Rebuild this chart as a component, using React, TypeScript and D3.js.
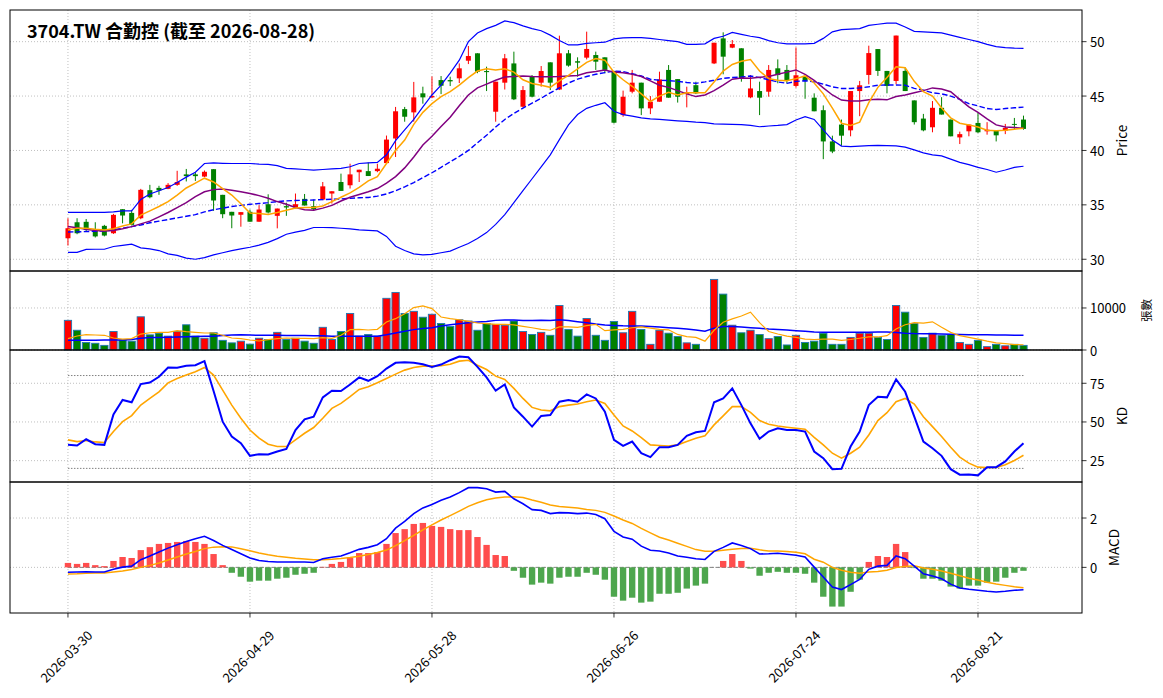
import * as d3 from "d3";

// ---- data ----
const tickIdx = [0, 20, 40, 60, 80, 100];
const tickLabels = ["2026-03-30", "2026-04-29", "2026-05-28", "2026-06-26", "2026-07-24", "2026-08-21"];

// index 70 has no trade (volume 0, no candle)
const opens = [
  31.93, 33.4, 33.44, 32.76, 33.07, 32.39, 34.6, 34.26, 33.77, 36.35,
  36.56, 36.47, 36.84, 37.8, 37.8, 37.6, 38.28, 35.92, 34.36, 34.09,
  34.36, 33.45, 35.06, 33.99, 34.88, 34.76, 35.55, 34.88, 35.49, 36.04,
  37.1, 36.8, 38.0, 38.1, 38.1, 38.84, 41.1, 43.8, 43.5, 45.25,
  44.88, 46.47, 46.47, 46.63, 48.25, 48.93, 47.3, 43.56, 46.23, 48.0,
  44.02, 46.78, 46.23, 48.1, 45.6, 48.93, 48.2, 48.53, 48.77, 48.56,
  47.3, 43.25, 45.4, 46.23, 43.87, 44.48, 47.4, 46.56, 45.18, 46.0,
  null, 48.0, 50.3, 49.45, 49.39, 44.88, 45.46, 45.4, 47.55, 47.4,
  45.93, 46.85, 44.85, 43.7, 40.83, 42.38, 41.85, 45.46, 46.94, 49.32,
  47.31, 46.39, 47.31, 44.6, 42.93, 42.13, 43.92, 42.84, 41.2, 41.76,
  42.53, 41.76, 41.85, 41.82, 42.44, 42.84,
];
const highs = [
  33.77, 33.77, 33.7, 33.4, 33.16, 34.17, 34.6, 34.54, 36.47, 36.84,
  36.75, 37.0, 38.13, 38.3, 38.0, 38.16, 38.28, 35.92, 34.36, 34.33,
  34.57, 34.97, 35.97, 34.66, 35.2, 36.04, 36.0, 35.49, 37.1, 36.25,
  37.87, 38.78, 38.23, 38.9, 38.78, 41.37, 44.0, 44.0, 46.3, 45.86,
  46.8, 46.84, 46.78, 48.0, 49.6, 48.93, 47.7, 46.32, 48.87, 49.08,
  45.92, 46.93, 47.76, 48.1, 50.55, 49.23, 48.56, 50.92, 49.08, 48.56,
  47.3, 45.5, 47.4, 46.23, 45.0, 47.24, 47.85, 46.56, 45.86, 46.32,
  null, 49.9, 50.86, 50.15, 49.39, 46.93, 46.32, 47.85, 48.37, 47.85,
  49.47, 46.85, 45.25, 44.14, 41.36, 42.84, 45.46, 46.39, 49.63, 49.32,
  47.31, 50.56, 47.62, 44.6, 43.36, 44.54, 44.9, 42.84, 41.73, 42.38,
  43.46, 42.6, 41.85, 42.44, 42.99, 43.2,
];
const lows = [
  31.26, 32.3, 32.55, 32.0, 32.1, 32.33, 33.3, 33.1, 33.68, 35.6,
  35.92, 36.44, 36.75, 37.15, 37.2, 37.55, 34.45, 33.77, 32.85, 32.99,
  33.45, 33.45, 34.2, 32.84, 33.99, 34.66, 34.94, 34.45, 35.43, 35.12,
  36.28, 36.5, 37.1, 37.65, 38.0, 38.84, 39.4, 42.64, 42.64, 44.3,
  44.8, 45.18, 45.92, 46.2, 47.94, 47.1, 45.46, 42.64, 45.6, 44.63,
  43.96, 44.88, 45.86, 45.55, 45.55, 47.7, 46.78, 48.37, 47.4, 47.1,
  42.48, 43.1, 45.25, 43.25, 43.34, 44.48, 44.85, 44.4, 43.96, 45.18,
  null, 47.94, 47.0, 49.4, 46.32, 44.8, 43.25, 44.94, 46.17, 46.17,
  45.77, 44.75, 43.6, 39.2, 39.75, 40.43, 41.3, 43.15, 46.08, 46.85,
  45.25, 46.08, 45.46, 42.38, 41.76, 41.67, 43.3, 41.3, 40.59, 41.3,
  41.6, 41.45, 40.83, 41.5, 41.91, 41.91,
];
const closes = [
  32.85, 32.39, 32.7, 32.1, 32.18, 34.08, 34.02, 33.16, 36.38, 35.7,
  36.32, 36.84, 37.1, 37.64, 37.64, 38.04, 35.4, 34.14, 34.02, 34.33,
  33.45, 34.57, 34.3, 34.66, 34.76, 35.06, 34.94, 34.6, 36.7, 36.25,
  36.28, 37.8, 38.23, 37.65, 38.32, 41.0, 43.6, 43.1, 44.88, 44.88,
  45.0, 45.95, 46.35, 47.55, 48.68, 47.24, 47.2, 46.32, 48.47, 44.7,
  45.55, 44.94, 47.3, 46.23, 48.93, 47.8, 48.07, 49.33, 48.16, 47.4,
  42.55, 44.94, 46.23, 43.87, 44.48, 46.53, 44.85, 44.94, 45.34, 45.25,
  null, 49.9, 48.62, 49.78, 46.63, 45.7, 44.85, 47.4, 46.93, 46.47,
  46.91, 46.39, 43.6, 40.83, 39.9, 41.36, 45.46, 45.99, 48.95, 47.31,
  45.93, 50.56, 45.46, 42.6, 41.85, 43.92, 43.3, 41.3, 41.5, 42.38,
  41.67, 41.91, 41.39, 42.07, 42.35, 41.98,
];
const volumes = [
  7060, 4700, 1800, 1600, 1100, 4400, 2400, 2100, 7900, 3600,
  4000, 3300, 4400, 6000, 3300, 2800, 4100, 2300, 1700, 2100,
  1400, 2800, 2500, 4200, 2500, 2800, 2100, 1600, 5400, 2500,
  4400, 8700, 3300, 3700, 3300, 12300, 13700, 8700, 9200, 7800,
  8500, 6300, 5600, 7200, 6900, 4700, 6300, 6100, 5900, 6900,
  4400, 3700, 4200, 3500, 10600, 4900, 3300, 7500, 3500, 2300,
  6800, 4100, 9200, 4900, 1350, 4700, 4000, 3200, 1700, 1350,
  0, 16800, 13300, 5900, 4100, 4700, 3700, 2700, 3200, 1200,
  3500, 1800, 2100, 4000, 1350, 1350, 3000, 4000, 4000, 3000,
  2500, 10600, 9000, 6300, 3000, 4000, 3500, 3700, 1800, 1350,
  2300, 800, 1350, 1000, 1350, 1100,
];

const ma5 = [
  32.7, 32.85, 32.85, 32.75, 32.7, 32.8, 33.05, 33.25, 34.05, 34.45,
  34.85, 35.3, 35.9, 36.55, 37.0, 37.45, 37.1, 36.5, 35.9, 35.1,
  34.25, 34.2, 34.12, 34.3, 34.5, 34.7, 34.76, 34.76, 34.9, 35.3,
  35.7, 36.1, 36.6, 37.2, 37.6, 38.8, 40.0, 40.95, 42.4, 43.5,
  44.3, 44.95, 45.4, 46.0, 46.7, 47.3, 47.5, 47.4, 47.5, 47.2,
  46.5, 46.15, 46.0, 45.8, 46.4, 46.9, 47.5, 48.1, 48.45, 48.3,
  47.2, 46.5, 45.9, 45.2, 44.5, 45.0, 45.35, 45.1, 45.3, 45.3,
  45.3, 46.3, 47.3, 47.9, 48.2, 48.35, 47.3, 46.6, 46.45, 46.4,
  46.6, 46.85, 46.2, 45.2, 43.9, 42.5, 42.3, 42.6, 44.4, 45.8,
  46.7, 47.7, 47.6, 46.35, 45.4, 45.0, 43.9, 43.0, 42.5, 42.35,
  42.15, 41.85, 41.8, 41.85, 41.95, 42.05,
];
const ma10 = [
  33.0, 32.9, 32.75, 32.65, 32.6, 32.65, 32.8, 33.0, 33.25, 33.5,
  33.9, 34.3, 34.75, 35.2, 35.75, 36.2, 36.4, 36.45, 36.35, 36.2,
  36.05, 35.85, 35.6, 35.3, 35.05, 34.75, 34.55, 34.5, 34.7, 34.95,
  35.35, 35.7, 35.95, 36.2, 36.5, 37.0, 37.6, 38.4, 39.4, 40.5,
  41.3, 42.2, 43.05, 44.1, 45.1, 45.75, 46.1, 46.45, 46.75, 46.8,
  46.84, 46.8, 46.78, 46.78, 46.8, 46.85, 46.9, 47.15, 47.25, 47.4,
  47.2, 47.15, 47.0, 46.8, 46.4, 46.0, 45.8, 45.5, 45.2, 44.95,
  45.1, 45.5, 46.0, 46.55, 46.65, 46.63, 46.72, 46.8, 47.0, 47.2,
  47.4, 47.0, 46.45, 45.75, 45.1, 44.63, 44.55, 44.55, 44.65, 44.7,
  44.65, 44.95, 45.1, 45.3, 45.5, 45.75, 45.65, 45.4, 44.7, 44.0,
  43.5, 42.9, 42.35, 42.15, 42.1, 42.05,
];
const bbUpper = [
  34.3, 34.3, 34.3, 34.3, 34.3, 34.35, 34.45, 34.45, 35.5, 36.0,
  36.3, 36.6, 37.05, 37.55, 38.0, 38.8, 38.85, 38.82, 38.8, 38.8,
  38.8, 38.75, 38.72, 38.6, 38.35, 38.3, 38.25, 38.2, 38.25, 38.3,
  38.35, 38.5, 38.8, 38.85, 38.9, 39.6, 40.9, 41.9, 42.85, 44.0,
  45.1, 46.0, 47.1, 48.3, 50.0, 50.8, 51.2, 51.5, 51.9, 51.75,
  51.45, 51.2, 51.0, 50.6, 50.1, 49.7, 49.7, 49.85, 49.9, 49.95,
  50.25, 50.35, 50.37, 50.37, 50.3, 50.2, 50.1, 50.0, 49.75, 49.75,
  49.8, 50.3, 50.5, 50.85, 50.67, 50.5, 50.37, 50.1, 49.9, 49.8,
  49.8, 49.8, 49.85, 50.3, 50.9, 51.1, 51.15, 51.2, 51.5, 51.6,
  51.7, 51.7, 51.35, 50.95, 50.9, 50.85, 50.8, 50.6, 50.4, 50.2,
  50.0, 49.75, 49.55, 49.45, 49.4, 49.38,
];
const bbMid = [
  32.5, 32.52, 32.55, 32.57, 32.6, 32.7, 32.85, 33.0, 33.15, 33.35,
  33.5, 33.65, 33.8, 33.95, 34.1, 34.35, 34.55, 34.7, 34.85, 34.95,
  35.05, 35.12, 35.2, 35.3, 35.37, 35.4, 35.42, 35.45, 35.48, 35.52,
  35.55, 35.6, 35.65, 35.68, 35.8, 36.0, 36.3, 36.65, 37.05, 37.5,
  37.95, 38.45, 38.95, 39.45, 40.0, 40.7, 41.4, 42.15, 42.85, 43.4,
  43.9, 44.35, 44.8, 45.3, 45.75, 46.2, 46.55, 46.8, 47.0, 47.15,
  47.3, 47.25, 47.05, 46.85, 46.55, 46.45, 46.42, 46.35, 46.25, 46.17,
  46.3, 46.45, 46.63, 46.7, 46.75, 46.84, 46.7, 46.5, 46.3, 46.17,
  46.35, 46.4, 46.3, 46.1, 45.85, 45.7, 45.7, 45.75, 45.85, 46.0,
  46.02, 46.02, 46.0, 45.7, 45.55, 45.3, 45.2, 45.0, 44.7, 44.3,
  44.1, 43.85, 43.76, 43.85, 43.92, 43.98,
];
const bbLower = [
  30.64, 30.64, 30.9, 30.92, 30.92, 31.17, 31.28, 31.38, 31.05, 30.95,
  30.8, 30.5, 30.35, 30.1, 30.0, 30.15, 30.4, 30.6, 30.8, 30.95,
  31.1, 31.3, 31.55, 31.9, 32.3, 32.5, 32.65, 32.92, 32.92, 32.9,
  32.85, 32.8, 32.7, 32.65, 32.6, 32.1, 31.2, 30.8, 30.5, 30.4,
  30.45, 30.6, 30.75, 31.1, 31.45, 31.9, 32.45, 33.2, 34.1, 35.2,
  36.3, 37.4, 38.5, 39.6, 41.0, 42.35, 43.3, 43.87, 44.15, 44.39,
  43.6, 43.3, 43.15, 43.0, 42.9, 42.85, 42.78, 42.72, 42.67, 42.6,
  42.55, 42.45, 42.42, 42.4, 42.38, 42.3, 42.18, 42.25, 42.3, 42.38,
  42.8, 43.1, 42.85, 41.9, 40.95, 40.4, 40.35, 40.4, 40.45, 40.47,
  40.45, 40.42, 40.3, 40.05, 39.78, 39.6, 39.5, 39.2, 38.9, 38.7,
  38.45, 38.25, 38.0, 38.2, 38.45, 38.55,
];

const volMa5 = [
  2700, 3330, 3650, 3570, 3500, 2860, 2600, 2700, 3800, 4100,
  4200, 4200, 4600, 4370, 4200, 4050, 4050, 3500, 2860, 2700,
  2380, 2140, 2460, 2700, 2860, 2780, 2780, 2700, 2940, 2780,
  3500, 4840, 4920, 4760, 4920, 6670, 7460, 8650, 10100, 10500,
  9840, 7860, 7460, 7200, 6830, 6430, 6270, 6100, 6100, 6000,
  5630, 5300, 4920, 4700, 5500, 5500, 5400, 5800, 6100, 4600,
  4800, 4900, 5300, 5500, 5200, 4900, 4800, 3700, 3200, 3000,
  2100, 4700, 6600, 7400, 8100, 9000, 6500, 4400, 3800, 3300,
  3000, 2600, 2500, 2600, 2600, 2300, 2500, 2800, 3100, 3100,
  3400, 5000, 6000, 6500, 6400, 6700, 5400, 4200, 3400, 3000,
  2600, 2100, 1700, 1500, 1300, 1250,
];
const volMa20 = [
  2300, 2350, 2350, 2350, 2400, 2400, 2400, 2500, 2800, 2950,
  3000, 3050, 3100, 3150, 3200, 3250, 3300, 3450, 3550, 3600,
  3550, 3500, 3500, 3500, 3450, 3450, 3450, 3400, 3400, 3300,
  3250, 3250, 3250, 3250, 3300, 3650, 4050, 4450, 4850, 5100,
  5300, 5700, 6000, 6250, 6500, 6650, 6800, 7050, 7150, 7150,
  7000, 7000, 7050, 7000, 7200, 7000, 6750, 6500, 6200, 5950,
  5850, 5750, 5700, 5700, 5600, 5450, 5300, 5150, 5000, 4750,
  4450, 5200, 5600, 5600, 5450, 5300, 5150, 5000, 4900, 4750,
  4600, 4450, 4300, 4250, 4200, 4200, 4200, 4200, 4250, 4300,
  4300, 4150, 4000, 3900, 3850, 3850, 3800, 3750, 3700, 3650,
  3600, 3600, 3550, 3550, 3500, 3500,
];

const kValues = [
  35.2, 34.8, 38.8, 35.6, 35.2, 54.9, 64.2, 62.7, 74.5, 75.5,
  79.2, 85.2, 85.0, 86.3, 86.7, 89.3, 70.0, 50.2, 40.6, 36.3,
  28.1, 29.2, 29.0, 30.9, 32.6, 44.8, 51.7, 53.4, 65.9, 70.2,
  70.0, 74.2, 78.8, 76.6, 79.6, 84.5, 88.2, 88.6, 88.2, 87.3,
  85.6, 87.1, 89.9, 92.3, 91.8, 85.6, 78.8, 70.2, 74.2, 59.4,
  53.4, 47.0, 53.9, 54.5, 63.1, 64.2, 63.1, 67.8, 65.2, 56.7,
  38.4, 34.5, 37.3, 29.8, 27.3, 33.7, 33.7, 35.2, 41.0, 43.3,
  44.2, 62.7, 65.2, 71.7, 60.9, 49.1, 39.1, 43.8, 45.9, 44.8,
  44.8, 43.8, 30.9, 26.6, 19.5, 19.7, 34.1, 43.8, 60.9, 66.3,
  65.9, 77.5, 69.5, 53.4, 37.3, 33.0, 28.1, 19.5, 15.9, 16.1,
  15.5, 20.8, 20.8, 24.5, 30.9, 36.3,
];
const dValues = [
  38.4, 37.3, 38.0, 37.1, 36.7, 43.8, 50.2, 54.1, 60.9, 65.2,
  69.5, 75.3, 78.1, 80.3, 82.4, 85.2, 80.3, 70.6, 60.9, 52.4,
  44.8, 39.5, 35.6, 34.1, 34.1, 38.4, 42.7, 46.4, 52.4, 58.8,
  62.0, 66.3, 71.0, 72.7, 75.3, 78.1, 80.9, 83.5, 85.2, 86.1,
  86.1, 86.3, 87.3, 89.3, 89.9, 86.7, 83.9, 79.6, 77.5, 71.7,
  65.2, 59.4, 57.7, 57.2, 59.9, 60.9, 61.6, 63.1, 64.2, 62.0,
  54.5, 47.4, 44.2, 39.9, 35.2, 34.8, 34.5, 35.2, 37.3, 39.5,
  41.0, 48.1, 53.9, 59.9, 59.9, 56.2, 50.9, 48.5, 47.4, 46.6,
  45.9, 45.3, 40.1, 35.2, 29.8, 26.6, 29.8, 33.7, 41.6, 50.9,
  56.0, 63.1, 65.2, 61.6, 53.4, 47.0, 40.6, 33.7, 27.3, 23.4,
  20.8, 20.6, 20.6, 22.3, 25.1, 28.5,
];

const difValues = [
  -0.2, -0.19, -0.18, -0.19, -0.19, -0.08, 0.01, 0.05, 0.31, 0.46,
  0.62, 0.78, 0.92, 1.05, 1.16, 1.26, 1.09, 0.89, 0.72, 0.55,
  0.38, 0.28, 0.24, 0.22, 0.22, 0.22, 0.22, 0.2, 0.35, 0.41,
  0.46, 0.59, 0.73, 0.81, 0.92, 1.16, 1.59, 1.86, 2.18, 2.41,
  2.55, 2.72, 2.85, 3.03, 3.23, 3.23, 3.19, 3.05, 3.08, 2.78,
  2.58, 2.34, 2.31, 2.18, 2.22, 2.21, 2.18, 2.2, 2.14, 1.97,
  1.46, 1.23, 1.14, 0.86, 0.69, 0.66, 0.58, 0.46, 0.41, 0.35,
  0.32, 0.65, 0.81, 0.99, 0.89, 0.76, 0.54, 0.55, 0.57, 0.53,
  0.49, 0.42, 0.01, -0.39, -0.8, -0.9, -0.7, -0.49, -0.08, 0.05,
  0.08, 0.46, 0.35, 0.05, -0.26, -0.35, -0.46, -0.68, -0.84, -0.89,
  -0.93, -0.97, -1.0, -0.97, -0.93, -0.91,
];
const signalValues = [
  -0.27, -0.26, -0.24, -0.23, -0.23, -0.19, -0.15, -0.09, 0.0, 0.08,
  0.18, 0.3, 0.42, 0.54, 0.64, 0.76, 0.82, 0.84, 0.83, 0.75,
  0.67, 0.58, 0.51, 0.45, 0.41, 0.37, 0.34, 0.31, 0.31, 0.33,
  0.36, 0.4, 0.45, 0.52, 0.6, 0.7, 0.88, 1.08, 1.3, 1.52,
  1.72, 1.92, 2.1, 2.28, 2.47, 2.62, 2.74, 2.81, 2.85, 2.86,
  2.83, 2.73, 2.64, 2.53, 2.47, 2.44, 2.41, 2.35, 2.31, 2.23,
  2.08, 1.92, 1.78, 1.58, 1.4, 1.22, 1.11, 0.98, 0.85, 0.72,
  0.65, 0.65, 0.69, 0.73, 0.76, 0.77, 0.71, 0.66, 0.66, 0.64,
  0.61, 0.55, 0.33, 0.21, 0.0, -0.12, -0.2, -0.24, -0.19, -0.17,
  -0.12, -0.01, 0.04, 0.06, -0.03, -0.08, -0.15, -0.24, -0.34, -0.44,
  -0.51, -0.6, -0.67, -0.73, -0.79, -0.83,
];
const histValues = [
  0.18, 0.14, 0.18, 0.09, 0.05, 0.26, 0.42, 0.38, 0.7, 0.82,
  0.95, 0.99, 1.03, 1.07, 1.03, 0.95, 0.54, 0.09, -0.22, -0.38,
  -0.58, -0.54, -0.54, -0.46, -0.42, -0.3, -0.26, -0.22, 0.02, 0.14,
  0.22, 0.38, 0.58, 0.58, 0.62, 0.95, 1.39, 1.55, 1.76, 1.8,
  1.68, 1.64, 1.55, 1.51, 1.51, 1.23, 0.91, 0.5, 0.46, -0.14,
  -0.42, -0.7, -0.62, -0.66, -0.42, -0.38, -0.38, -0.22, -0.3, -0.5,
  -1.19, -1.35, -1.23, -1.43, -1.39, -1.07, -1.07, -1.03, -0.86, -0.74,
  -0.66, 0.0, 0.26, 0.54, 0.26, -0.05, -0.34, -0.22, -0.18, -0.22,
  -0.22, -0.26, -0.62, -1.19, -1.59, -1.59, -0.99, -0.5, 0.22, 0.46,
  0.42, 0.95, 0.62, -0.03, -0.46, -0.46, -0.54, -0.78, -0.86, -0.74,
  -0.74, -0.62, -0.58, -0.42, -0.22, -0.14,
];

const priceTicks = [30, 35, 40, 45, 50];
const volTicks = [0, 10000];
const kdTicks = [25, 50, 75];
const macdTicks = [0, 2];

// ---- layout ----
const W = 1163;
const H = 698;
const L = 10;
const R = 1082;
const FONT = "'Noto Sans CJK TC', 'Noto Sans', 'DejaVu Sans', sans-serif";
const UP = "#ff0000";
const DOWN = "#008000";
const GRID = "#b0b0b0";

const x = d3.scaleLinear().domain([-6.37, 111.43]).range([L, R]);
const yP = d3.scaleLinear().domain([28.92, 52.91]).range([271, 10]);
const yV = d3.scaleLinear().domain([0, 18800]).range([350, 271]);
const yK = d3.scaleLinear().domain([11.2, 96.5]).range([482, 350]);
const yM = d3.scaleLinear().domain([-1.85, 3.46]).range([613, 482]);

const step = x(1) - x(0);

function linePath(vals: number[], y: d3.ScaleLinear<number, number>) {
  return (
    d3
      .line<number>()
      .x((_, i) => x(i))
      .y((d) => y(d))(vals) || ""
  );
}

function Panel({ top, bottom, y, ticks, label, labelX, labelSize, fmt }: any) {
  return (
    <g>
      {tickIdx.map((t) => (
        <line key={"vx" + t} x1={x(t)} x2={x(t)} y1={top} y2={bottom} stroke={GRID} strokeWidth={0.8} strokeDasharray="1,2" />
      ))}
      {ticks.map((t: number) => (
        <g key={"hy" + t}>
          <line x1={L} x2={R} y1={y(t)} y2={y(t)} stroke={GRID} strokeWidth={0.8} strokeDasharray="1,2" />
          <line x1={R} x2={R + 4.5} y1={y(t)} y2={y(t)} stroke="#000" strokeWidth={0.8} />
          <text x={R + 8} y={y(t)} dominantBaseline="central" fontSize={13} fontFamily={FONT} fill="#000">
            {fmt ? fmt(t) : t}
          </text>
        </g>
      ))}
      <text
        transform={`translate(${labelX},${(top + bottom) / 2}) rotate(-90)`}
        textAnchor="middle"
        dominantBaseline="central"
        fontSize={labelSize}
        fontFamily={FONT}
        fill="#000"
      >
        {label}
      </text>
    </g>
  );
}

export default function App() {
  const idx = d3.range(opens.length);
  const bodyW = step * 0.55;
  const volW = step * 0.8;
  const histW = step * 0.7;

  return (
    <div style={{ position: "absolute", left: 0, top: 0 }}>
      <svg width={W} height={H} viewBox={`0 0 ${W} ${H}`} style={{ display: "block", background: "#fff" }}>
        <rect x={0} y={0} width={W} height={H} fill="#fff" />

        {/* ---- price panel ---- */}
        <Panel top={10} bottom={271} y={yP} ticks={priceTicks} label="Price" labelX={1121} labelSize={13.5} />
        {idx.map((i) => {
          const o = opens[i];
          const c = closes[i];
          if (o == null || c == null) return null;
          const col = c >= o ? UP : DOWN;
          const yTop = yP(Math.max(o, c));
          const yBot = yP(Math.min(o, c));
          return (
            <g key={"c" + i}>
              <line x1={x(i)} x2={x(i)} y1={yP(highs[i] as number)} y2={yP(lows[i] as number)} stroke={col} strokeWidth={1} />
              <rect x={x(i) - bodyW / 2} y={yTop} width={bodyW} height={Math.max(yBot - yTop, 0.8)} fill={col} />
            </g>
          );
        })}
        <path d={linePath(bbUpper, yP)} fill="none" stroke="#0000ff" strokeWidth={1.2} />
        <path d={linePath(bbLower, yP)} fill="none" stroke="#0000ff" strokeWidth={1.2} />
        <path d={linePath(bbMid, yP)} fill="none" stroke="#0000ff" strokeWidth={1.4} strokeDasharray="5.5,2.4" />
        <path d={linePath(ma10, yP)} fill="none" stroke="#800080" strokeWidth={1.5} />
        <path d={linePath(ma5, yP)} fill="none" stroke="#ffa500" strokeWidth={1.5} />
        <text x={27} y={38} fontSize={18} fontWeight="bold" fontFamily={FONT} fill="#000">
          3704.TW 合勤控 (截至 2026-08-28)
        </text>

        {/* ---- volume panel ---- */}
        <Panel top={271} bottom={350} y={yV} ticks={volTicks} label="張數" labelX={1146} labelSize={11.5} />
        {idx.map((i) => {
          const v = volumes[i];
          const o = opens[i];
          const c = closes[i];
          if (!v || o == null || c == null) return null;
          return (
            <rect
              key={"v" + i}
              x={x(i) - volW / 2}
              y={yV(v)}
              width={volW}
              height={yV(0) - yV(v)}
              fill={c >= o ? UP : DOWN}
              stroke="#1f77b4"
              strokeWidth={0.9}
            />
          );
        })}
        <path d={linePath(volMa20, yV)} fill="none" stroke="#0000ff" strokeWidth={1.5} />
        <path d={linePath(volMa5, yV)} fill="none" stroke="#ffa500" strokeWidth={1.2} />

        {/* ---- KD panel ---- */}
        <Panel top={350} bottom={482} y={yK} ticks={kdTicks} label="KD" labelX={1121} labelSize={13.5} />
        {[80, 20].map((lv) => (
          <line key={"kr" + lv} x1={x(0)} x2={x(opens.length - 1)} y1={yK(lv)} y2={yK(lv)} stroke="#808080" strokeWidth={1} strokeDasharray="1.5,1.5" />
        ))}
        <path d={linePath(dValues, yK)} fill="none" stroke="#ffa500" strokeWidth={1.6} />
        <path d={linePath(kValues, yK)} fill="none" stroke="#0000ff" strokeWidth={2} />

        {/* ---- MACD panel ---- */}
        <Panel top={482} bottom={613} y={yM} ticks={macdTicks} label="MACD" labelX={1113} labelSize={13.5} />
        <line x1={x(0)} x2={x(opens.length - 1)} y1={yM(0)} y2={yM(0)} stroke="#808080" strokeWidth={1} strokeDasharray="4,2" />
        {idx.map((i) => {
          const h = histValues[i];
          if (!h) return null;
          return (
            <rect
              key={"h" + i}
              x={x(i) - histW / 2}
              y={Math.min(yM(h), yM(0))}
              width={histW}
              height={Math.abs(yM(h) - yM(0))}
              fill={h >= 0 ? "#ff4d4d" : "#4da64d"}
            />
          );
        })}
        <path d={linePath(signalValues, yM)} fill="none" stroke="#ffa500" strokeWidth={1.5} />
        <path d={linePath(difValues, yM)} fill="none" stroke="#0000ff" strokeWidth={1.6} />

        {/* ---- frames ---- */}
        {[
          [10, 271],
          [271, 350],
          [350, 482],
          [482, 613],
        ].map(([t, b]) => (
          <rect key={"f" + t} x={L} y={t} width={R - L} height={b - t} fill="none" stroke="#000" strokeWidth={1} />
        ))}

        {/* ---- x axis ---- */}
        {tickIdx.map((t, k) => (
          <g key={"xt" + t}>
            <line x1={x(t)} x2={x(t)} y1={613} y2={617.5} stroke="#000" strokeWidth={0.8} />
            <text
              transform={`translate(${x(t) - 2},${656}) rotate(-45)`}
              textAnchor="middle"
              dominantBaseline="central"
              fontSize={13}
              fontFamily={FONT}
              fill="#000"
            >
              {tickLabels[k]}
            </text>
          </g>
        ))}
      </svg>
    </div>
  );
}
